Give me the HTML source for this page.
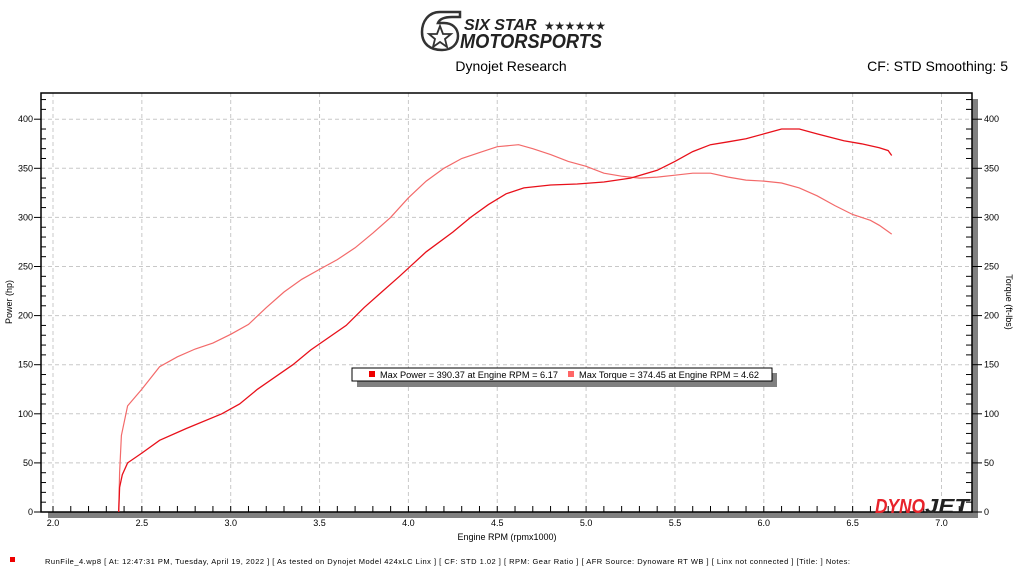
<!DOCTYPE html>
<html><head><meta charset="utf-8"><style>
body{margin:0;background:#fff;width:1023px;height:575px;overflow:hidden;font-family:"Liberation Sans",sans-serif}
svg{position:absolute;left:0;top:0}
</style></head><body>
<svg id="s" width="1023" height="575" viewBox="0 0 1023 575" font-family="Liberation Sans, sans-serif">
<g transform="translate(420,10)">
<path d="M40 2 H20 C8 2 2 12 2 22 C2 34 10 40 22 40 C32 40 38 34 38 26 C38 18 32 13 24 13 H18 C20 8 26 7 32 7 H40 Z" fill="none" stroke="#333" stroke-width="2.5"/>
<polygon points="20,16 23,24 31,24 25,29 27,37 20,32 13,37 15,29 9,24 17,24" fill="none" stroke="#333" stroke-width="1.8"/>
<text x="44" y="20" font-size="16" font-weight="bold" font-style="italic" fill="#222">SIX STAR</text>
<text x="124" y="20" font-size="12" fill="#222" letter-spacing="-0.5">★★★★★★</text>
<text x="40" y="38" font-size="20" font-weight="bold" font-style="italic" fill="#222" textLength="142" lengthAdjust="spacingAndGlyphs">MOTORSPORTS</text>
</g>
<text x="511" y="71" font-size="14" text-anchor="middle" fill="#000">Dynojet Research</text>
<text x="1008" y="71" font-size="14" text-anchor="end" fill="#000">CF: STD Smoothing: 5</text>
<rect x="48" y="512" width="930" height="6" fill="#808080"/>
<rect x="972" y="99" width="6" height="419" fill="#808080"/>
<g id="grid"></g>
<rect x="41" y="93" width="931" height="419" fill="none" stroke="#000" stroke-width="1.5"/>
<g id="ticks"></g>
<text x="875" y="513" font-size="20" font-weight="bold" font-style="italic" fill="#e8232b" textLength="50" lengthAdjust="spacingAndGlyphs">DYNO</text>
<text x="925" y="513" font-size="20" font-weight="bold" font-style="italic" fill="#222" textLength="44" lengthAdjust="spacingAndGlyphs">JET</text>
<path id="tq" fill="none" stroke="#f36a6a" stroke-width="1.2"/>
<path id="pw" fill="none" stroke="#e8101a" stroke-width="1.3"/>
<rect x="357" y="373" width="420" height="14" fill="#808080"/>
<rect x="352" y="368" width="420" height="13" fill="#fff" stroke="#000" stroke-width="1"/>
<rect x="369" y="371" width="6" height="6" fill="#e00"/>
<text x="380" y="378" font-size="9" fill="#000" textLength="178" lengthAdjust="spacingAndGlyphs">Max Power = 390.37 at Engine RPM = 6.17</text>
<rect x="568" y="371" width="6" height="6" fill="#f66"/>
<text x="579" y="378" font-size="9" fill="#000" textLength="180" lengthAdjust="spacingAndGlyphs">Max Torque = 374.45 at Engine RPM = 4.62</text>
<text x="507" y="540" font-size="9" text-anchor="middle">Engine RPM (rpmx1000)</text>
<text transform="translate(12,302) rotate(-90)" font-size="9" text-anchor="middle">Power (hp)</text>
<text transform="translate(1006,302) rotate(90)" font-size="9" text-anchor="middle">Torque (ft-lbs)</text>
<rect x="10" y="557" width="5" height="5" fill="#e00"/>
<text x="45" y="564" font-size="7.5" fill="#000" textLength="805" lengthAdjust="spacing">RunFile_4.wp8  [ At:  12:47:31 PM, Tuesday, April 19, 2022 ]  [ As tested on Dynojet Model 424xLC Linx ]  [ CF:  STD 1.02 ]  [ RPM:  Gear Ratio ]  [ AFR Source:  Dynoware RT WB ]  [ Linx not connected ]  [Title: ]   Notes:</text>
</svg>
<script>
var NS="http://www.w3.org/2000/svg";
function X(r){return 53+(r-2)*177.7}
function Y(v){return 512-v*0.982}
function el(p,t,a,txt){var e=document.createElementNS(NS,t);for(var k in a)e.setAttribute(k,a[k]);if(txt!==undefined)e.textContent=txt;p.appendChild(e);return e}
var g=document.getElementById("grid"),tk=document.getElementById("ticks");
for(var r=2;r<=7.01;r+=0.5){el(g,"line",{x1:X(r),x2:X(r),y1:93,y2:512,stroke:"#c8c8c8","stroke-dasharray":"4,3"});
 el(tk,"text",{x:X(r),y:526,"font-size":9,"text-anchor":"middle"},r.toFixed(1));}
for(var v=50;v<=400;v+=50)el(g,"line",{x1:41,x2:972,y1:Y(v),y2:Y(v),stroke:"#c8c8c8","stroke-dasharray":"4,3"});
for(var i=0;i<=52;i++){var r=2+i*0.1-0.1;var x=X(r);if(x<41||x>972)continue;el(tk,"line",{x1:x,x2:x,y1:512,y2:506,stroke:"#000"});}
for(var v=0;v<=420;v+=10){var y=Y(v);if(y<95)continue;
 if(v%50==0){
  el(tk,"line",{x1:34,x2:41,y1:y,y2:y,stroke:"#000"});
  el(tk,"line",{x1:972,x2:982,y1:y,y2:y,stroke:"#000"});
  el(tk,"text",{x:33,y:y+3,"font-size":9,"text-anchor":"end"},v);el(tk,"text",{x:984,y:y+3,"font-size":9},v);
 } else {
  el(tk,"line",{x1:41,x2:46,y1:y,y2:y,stroke:"#000"});
  el(tk,"line",{x1:966,x2:972,y1:y,y2:y,stroke:"#000"});
 }}
var P=[[2.37,0],[2.375,25],[2.39,38],[2.42,50],[2.5,60],[2.6,73],[2.75,85],[2.95,100],[3.05,110],[3.15,125],[3.35,150],[3.45,165],[3.65,190],[3.75,208],[3.95,240],[4.1,265],[4.25,285],[4.35,300],[4.45,313],[4.55,324],[4.65,330],[4.8,333],[4.95,334],[5.1,336],[5.25,340],[5.4,348],[5.5,357],[5.6,367],[5.7,374],[5.8,377],[5.9,380],[6.0,385],[6.1,390],[6.2,390],[6.3,385],[6.45,378],[6.55,375],[6.65,371],[6.7,368],[6.72,363]];
var T=[[2.37,0],[2.375,40],[2.385,78],[2.42,108],[2.5,125],[2.6,148],[2.7,158],[2.8,166],[2.9,172],[3.0,181],[3.1,191],[3.2,208],[3.3,224],[3.4,237],[3.5,247],[3.6,257],[3.7,269],[3.8,284],[3.9,300],[4.0,320],[4.1,337],[4.2,350],[4.3,360],[4.4,366],[4.5,372],[4.62,374],[4.7,370],[4.8,364],[4.9,357],[5.0,352],[5.1,345],[5.2,342],[5.3,340],[5.4,341],[5.5,343],[5.6,345],[5.7,345],[5.8,341],[5.9,338],[6.0,337],[6.1,335],[6.2,330],[6.3,322],[6.4,312],[6.5,303],[6.6,297],[6.65,292],[6.72,283]];
function d(a){return a.map(function(p,i){return (i?"L":"M")+X(p[0]).toFixed(1)+" "+Y(p[1]).toFixed(1)}).join(" ")}
document.getElementById("pw").setAttribute("d",d(P));
document.getElementById("tq").setAttribute("d",d(T));
</script>
</body></html>
